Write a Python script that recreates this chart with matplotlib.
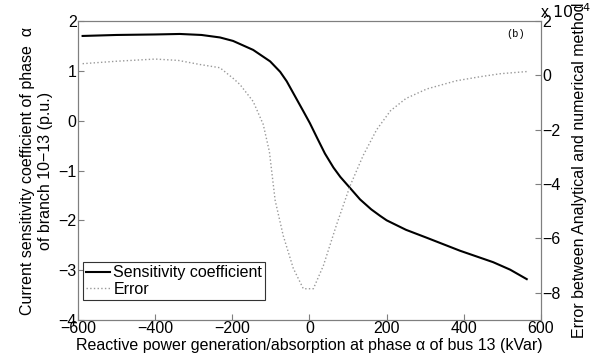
import matplotlib.pyplot as plt

plt.rcParams['font.family'] = ['Liberation Sans', 'DejaVu Sans']

# Sensitivity coefficient (left axis, p.u.)
q_sens = [-588, -500, -400, -336, -280, -232, -198, -146, -102, -76, -59, -16,
          1, 20, 40, 62, 80, 105, 131, 160, 183, 200, 250, 304, 390, 476, 520, 563]
sens = [1.70, 1.72, 1.73, 1.74, 1.72, 1.67, 1.60, 1.42, 1.19, 0.98, 0.79, 0.19,
        -0.05, -0.35, -0.66, -0.94, -1.13, -1.35, -1.58, -1.78, -1.91, -2.00, -2.19, -2.35,
        -2.61, -2.84, -2.99, -3.18]

# Error between analytical and numerical method (right axis, x 1e-4)
q_err = [-588, -500, -400, -340, -284, -232, -197, -180, -146, -120, -104, -89,
         -68, -42, -16, 10, 36, 70, 105, 139, 174, 210, 250, 304, 380, 442, 494, 563]
err = [0.43, 0.52, 0.60, 0.55, 0.40, 0.28, -0.12, -0.34, -0.96, -1.8, -2.8, -4.6,
       -5.9, -7.1, -7.85, -7.85, -7.0, -5.5, -4.07, -2.95, -2.0, -1.3, -0.85, -0.5,
       -0.2, -0.05, 0.06, 0.14]

fs = 11.5

fig = plt.figure(figsize=(5.98, 3.61), dpi=100)
ax = fig.add_axes([0.1304, 0.1136, 0.7743, 0.8282])
ax2 = ax.twinx()

l1, = ax.plot(q_sens, sens, color='black', lw=1.5, label='Sensitivity coefficient')
l2, = ax2.plot(q_err, err, color='#999999', lw=1.0, ls=':', label='Error')

ax.set_xlim(-600, 600)
ax.set_ylim(-4, 2)
ax.set_xticks([-600, -400, -200, 0, 200, 400, 600])
ax.set_yticks([-4, -3, -2, -1, 0, 1, 2])
ax2.set_ylim(-9, 2)
ax2.set_yticks([-8, -6, -4, -2, 0, 2])

for a in (ax, ax2):
    for s in a.spines.values():
        s.set_color('#7f7f7f')
        s.set_linewidth(0.8)
    a.tick_params(direction='in', labelsize=fs, length=4, color='#7f7f7f', pad=1)
ax.tick_params(right=False, top=False)

ax.set_xlabel('Reactive power generation/absorption at phase α of bus 13 (kVar)',
              fontsize=fs, labelpad=1)
ax.set_ylabel('Current sensitivity coefficient of phase  α\nof branch 10−13 (p.u.)',
              fontsize=fs, labelpad=4)
ax2.set_ylabel('Error between Analytical and numerical method', fontsize=fs, labelpad=8)

ax2.text(0.998, 1.0, r'x $10^{-4}$', transform=ax2.transAxes, fontsize=fs,
         ha='left', va='bottom')
ax.text(0.965, 0.955, '(b)', transform=ax.transAxes, fontsize=7.5,
        family='Liberation Mono', ha='right', va='center')

leg = ax.legend(handles=[l1, l2], loc='lower left', bbox_to_anchor=(0.011, 0.067),
                borderaxespad=0, fancybox=False, framealpha=1, fontsize=fs,
                handlelength=1.5, handletextpad=0.2, borderpad=0.2,
                labelspacing=0.1)
leg.get_frame().set_edgecolor('#333333')
leg.get_frame().set_linewidth(0.8)

fig.savefig('out.png', dpi=100)
